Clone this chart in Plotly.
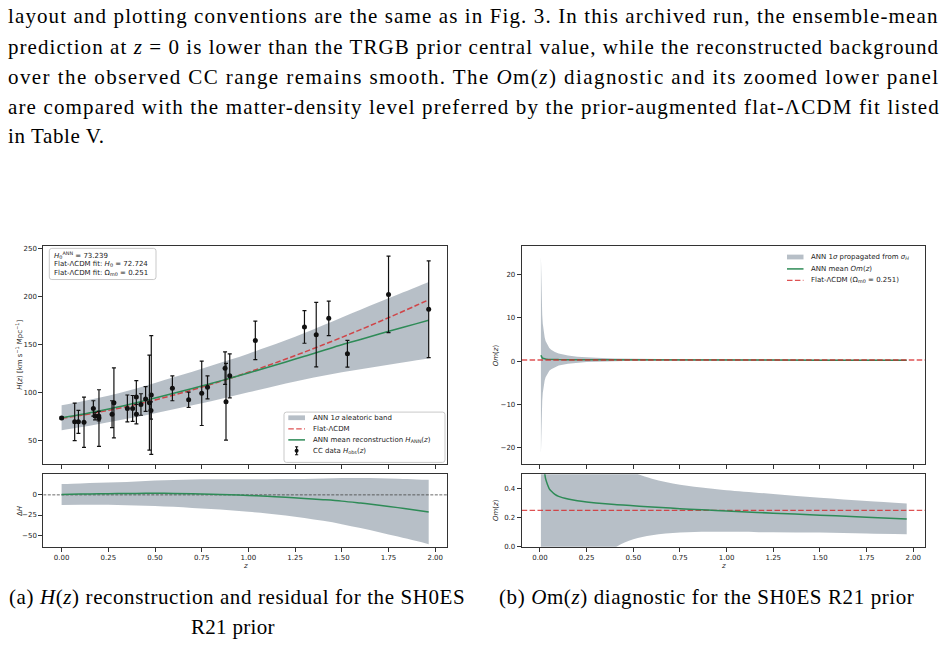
import numpy as np
import plotly.graph_objects as go

W, HT = 945, 647

# ---------------- data ----------------
# Cosmic-chronometer data (+ SH0ES R21 prior point at z = 0)
cc_z = [0.0, 0.07, 0.09, 0.12, 0.17, 0.179, 0.199, 0.2, 0.27, 0.28, 0.352, 0.3802,
        0.4, 0.4004, 0.4247, 0.4497, 0.47, 0.4783, 0.48, 0.593, 0.68, 0.75, 0.781,
        0.875, 0.88, 0.9, 1.037, 1.3, 1.363, 1.43, 1.53, 1.75, 1.965]
cc_h = [73.04, 69, 69, 68.6, 83, 75, 75, 72.9, 77, 88.8, 83, 83,
        95, 77, 87.1, 92.8, 89, 80.9, 97, 104, 92, 98.8, 105,
        125, 90, 117, 154, 168, 160, 177, 140, 202, 186.5]
cc_err = [1.04, 19.6, 12, 26.2, 8, 4, 5, 29.6, 14, 36.6, 14, 13.5,
          17, 10.2, 11.2, 12.9, 49.6, 9, 62, 13, 8, 33.6, 12,
          17, 40, 23, 20, 17, 33.6, 18, 14, 40, 50.4]

# Reconstruction grid
grid_z = [0.0, 0.1, 0.2, 0.3, 0.4, 0.5, 0.6, 0.7, 0.8, 0.9, 1.0,
          1.1, 1.2, 1.3, 1.4, 1.5, 1.6, 1.7, 1.8, 1.9, 1.965]
lcdm_h = [72.72, 75.69, 79.09, 82.93, 87.20, 91.88, 96.95, 102.39, 108.18, 114.31, 120.75,
          127.49, 134.52, 141.82, 149.37, 157.17, 165.21, 173.47, 181.94, 190.62, 196.38]
ann_h = [73.24, 76.6, 80.4, 84.5, 89.0, 93.8, 98.75, 103.8, 109.0, 114.4, 119.95,
         125.7, 131.5, 137.4, 143.4, 149.4, 155.0, 160.6, 166.1, 171.5, 175.0]
ann_sigma = [13.0, 13.3, 13.7, 14.2, 14.9, 15.8, 16.7, 17.6, 18.5, 19.3, 20.2,
             21.3, 22.6, 24.2, 26.3, 28.6, 31.0, 33.5, 35.9, 38.3, 40.0]

h0_ann = 73.239
h0_fit = 72.724
om0_fit = 0.251

# Om(z) diagnostic
om_z = [0.005, 0.006, 0.007, 0.008, 0.01, 0.012, 0.015, 0.02, 0.025, 0.03, 0.04, 0.05,
        0.06, 0.08, 0.1, 0.15, 0.2, 0.25, 0.3, 0.4, 0.5, 0.6, 0.75, 0.9, 1.0,
        1.25, 1.5, 1.75, 1.965]
om_mean = [1.35, 1.17, 1.04, 0.95, 0.82, 0.74, 0.65, 0.56, 0.51, 0.47, 0.43, 0.40,
           0.385, 0.362, 0.348, 0.330, 0.318, 0.309, 0.302, 0.291, 0.283, 0.275, 0.263, 0.253, 0.247,
           0.232, 0.218, 0.204, 0.192]
om_sigma = [22.8, 19.2, 16.6, 14.6, 11.8, 9.9, 8.0, 6.1, 5.0, 4.2, 3.25, 2.65,
            2.25, 1.72, 1.40, 0.95, 0.70, 0.55, 0.45, 0.30, 0.232, 0.195, 0.165, 0.150, 0.143,
            0.132, 0.120, 0.112, 0.106]

x_ticks = [0.0, 0.25, 0.5, 0.75, 1.0, 1.25, 1.5, 1.75, 2.0]
h_ticks = [50, 100, 150, 200, 250]
dh_ticks = [-50, -25, 0]
om_ticks = [-20, -10, 0, 10, 20]
omz_ticks = [0.0, 0.2, 0.4]

x_range = [-0.098, 2.063]
h_range = [24.6, 252.4]
dh_range = [-64.4, 25.5]
om_range = [-23.9, 26.6]
omz_range = [0.0, 0.5]

# ---------------- styling ----------------
BAND = "rgba(112,128,144,0.5)"
GREEN = "#2e8b57"
RED = "rgba(214,39,40,0.8)"
AX = "#333333"
TICKFONT = dict(family="DejaVu Sans", size=7, color="#222")
SERIF = "Liberation Serif"
RED_DASH = "5.5px,2.4px"


def px(x):
    return x / W


def py(y):
    return 1 - y / HT


ann_h_a = np.array(ann_h)
sig_a = np.array(ann_sigma)
lcdm_a = np.array(lcdm_h)
omm = np.array(om_mean)
oms = np.array(om_sigma)

fig = go.Figure()

# ---- H(z) panel ----
fig.add_trace(go.Scatter(x=grid_z, y=ann_h_a - sig_a, mode="lines", line=dict(width=0, shape="spline"),
                         hoverinfo="skip", showlegend=False, xaxis="x", yaxis="y"))
fig.add_trace(go.Scatter(x=grid_z, y=ann_h_a + sig_a, mode="lines", line=dict(width=0, shape="spline"),
                         fill="tonexty", fillcolor=BAND, showlegend=False, xaxis="x", yaxis="y"))
fig.add_trace(go.Scatter(x=grid_z, y=lcdm_h, mode="lines",
                         line=dict(color=RED, width=1.5, dash=RED_DASH, shape="spline"),
                         showlegend=False, xaxis="x", yaxis="y"))
fig.add_trace(go.Scatter(x=grid_z, y=ann_h, mode="lines",
                         line=dict(color=GREEN, width=1.5, shape="spline"),
                         showlegend=False, xaxis="x", yaxis="y"))
fig.add_trace(go.Scatter(x=cc_z, y=cc_h, mode="markers",
                         marker=dict(color="#111", size=5),
                         error_y=dict(type="data", array=cc_err, color="#111", thickness=1.2, width=2),
                         showlegend=False, xaxis="x", yaxis="y"))

# ---- residual panel ----
fig.add_trace(go.Scatter(x=grid_z, y=ann_h_a - sig_a - lcdm_a, mode="lines", line=dict(width=0, shape="spline"),
                         hoverinfo="skip", showlegend=False, xaxis="x2", yaxis="y2"))
fig.add_trace(go.Scatter(x=grid_z, y=ann_h_a + sig_a - lcdm_a, mode="lines", line=dict(width=0, shape="spline"),
                         fill="tonexty", fillcolor=BAND, showlegend=False, xaxis="x2", yaxis="y2"))
fig.add_trace(go.Scatter(x=x_range, y=[0, 0], mode="lines",
                         line=dict(color="#444", width=0.8, dash="3px,1.5px"),
                         showlegend=False, xaxis="x2", yaxis="y2"))
fig.add_trace(go.Scatter(x=grid_z, y=ann_h_a - lcdm_a, mode="lines",
                         line=dict(color=GREEN, width=1.5, shape="spline"),
                         showlegend=False, xaxis="x2", yaxis="y2"))

# ---- Om(z) panel ----
fig.add_trace(go.Scatter(x=om_z, y=omm - oms, mode="lines", line=dict(width=0),
                         hoverinfo="skip", showlegend=False, xaxis="x3", yaxis="y3"))
fig.add_trace(go.Scatter(x=om_z, y=omm + oms, mode="lines", line=dict(width=0),
                         fill="tonexty", fillcolor=BAND, showlegend=False, xaxis="x3", yaxis="y3"))
fig.add_trace(go.Scatter(x=om_z, y=om_mean, mode="lines", line=dict(color=GREEN, width=1.5),
                         showlegend=False, xaxis="x3", yaxis="y3"))
fig.add_trace(go.Scatter(x=x_range, y=[om0_fit, om0_fit], mode="lines",
                         line=dict(color=RED, width=1.3, dash=RED_DASH),
                         showlegend=False, xaxis="x3", yaxis="y3"))

# ---- Om(z) zoom panel ----
fig.add_trace(go.Scatter(x=om_z, y=omm - oms, mode="lines", line=dict(width=0, shape="spline"),
                         hoverinfo="skip", showlegend=False, xaxis="x4", yaxis="y4"))
fig.add_trace(go.Scatter(x=om_z, y=omm + oms, mode="lines", line=dict(width=0, shape="spline"),
                         fill="tonexty", fillcolor=BAND, showlegend=False, xaxis="x4", yaxis="y4"))
fig.add_trace(go.Scatter(x=x_range, y=[om0_fit, om0_fit], mode="lines",
                         line=dict(color=RED, width=1.3, dash=RED_DASH),
                         showlegend=False, xaxis="x4", yaxis="y4"))
fig.add_trace(go.Scatter(x=om_z, y=om_mean, mode="lines", line=dict(color=GREEN, width=1.5, shape="spline"),
                         showlegend=False, xaxis="x4", yaxis="y4"))

# ---------------- axes ----------------
lx = [px(43.3), px(447)]
rx = [px(521.7), px(925)]
ty = [py(467), py(247)]
by = [py(550), py(477)]

common = dict(showline=True, linecolor=AX, linewidth=1, mirror=True, ticks="outside",
              ticklen=4, tickwidth=1, tickcolor=AX, showgrid=False, zeroline=False,
              tickfont=TICKFONT)
xt_text = ["%.2f" % v for v in x_ticks]

fig.update_layout(
    xaxis=dict(domain=lx, anchor="y", range=x_range, tickvals=x_ticks, showticklabels=False, **common),
    yaxis=dict(domain=ty, anchor="x", range=h_range, tickvals=h_ticks, **common),
    xaxis2=dict(domain=lx, anchor="y2", range=x_range, tickvals=x_ticks, ticktext=xt_text, **common),
    yaxis2=dict(domain=by, anchor="x2", range=dh_range, tickvals=dh_ticks, **common),
    xaxis3=dict(domain=rx, anchor="y3", range=x_range, tickvals=x_ticks, showticklabels=False, **common),
    yaxis3=dict(domain=ty, anchor="x3", range=om_range, tickvals=om_ticks, **common),
    xaxis4=dict(domain=rx, anchor="y4", range=x_range, tickvals=x_ticks, ticktext=xt_text, **common),
    yaxis4=dict(domain=by, anchor="x4", range=omz_range, tickvals=omz_ticks,
                ticktext=["%.1f" % v for v in omz_ticks], **common),
    width=W, height=HT, margin=dict(l=0, r=0, t=0, b=0),
    paper_bgcolor="white", plot_bgcolor="white", showlegend=False,
)

annotations = []
shapes = []


def text(x, y, s, size=7, family="DejaVu Sans", xanchor="left", yanchor="middle", angle=0,
         color="#222", spacing=None):
    if spacing is not None:
        s = '<span style="letter-spacing:%.2fpx">%s</span>' % (spacing, s)
    annotations.append(dict(x=px(x), y=py(y), xref="paper", yref="paper", text=s, showarrow=False,
                            xanchor=xanchor, yanchor=yanchor, textangle=angle,
                            font=dict(family=family, size=size, color=color)))


def rrect(x0, y0, x1, y1, r, line="#bbbbbb", fill="rgba(255,255,255,0.85)", width=0.8):
    rx_, ry_ = r / W, r / HT
    X0, X1, Y0, Y1 = px(x0), px(x1), py(y1), py(y0)
    path = (f"M {X0+rx_},{Y0} L {X1-rx_},{Y0} Q {X1},{Y0} {X1},{Y0+ry_} L {X1},{Y1-ry_} "
            f"Q {X1},{Y1} {X1-rx_},{Y1} L {X0+rx_},{Y1} Q {X0},{Y1} {X0},{Y1-ry_} "
            f"L {X0},{Y0+ry_} Q {X0},{Y0} {X0+rx_},{Y0} Z")
    shapes.append(dict(type="path", path=path, xref="paper", yref="paper",
                       line=dict(color=line, width=width), fillcolor=fill, layer="above"))


def seg(x0, y0, x1, y1, color, width=1.5, dash="solid"):
    shapes.append(dict(type="line", x0=px(x0), y0=py(y0), x1=px(x1), y1=py(y1), xref="paper",
                       yref="paper", line=dict(color=color, width=width, dash=dash), layer="above"))


def patch(x0, y0, x1, y1, color):
    shapes.append(dict(type="rect", x0=px(x0), y0=py(y1), x1=px(x1), y1=py(y0), xref="paper",
                       yref="paper", line=dict(width=0), fillcolor=color, layer="above"))


# ---- info box (top-left) ----
rrect(49.3, 249.3, 156, 280.7, 2.5)
text(52, 255.7, "<i>H</i><sub>0</sub><sup>ANN</sup> = %.3f" % h0_ann)
text(52, 264.9, "Flat-ΛCDM fit: <i>H</i><sub>0</sub> = %.3f" % h0_fit)
text(52, 274.2, "Flat-ΛCDM fit: Ω<sub>m0</sub> = %.3f" % om0_fit)

# ---- H panel legend ----
rrect(284, 414.3, 445, 465, 2.5)
patch(288.3, 417.6, 305, 422.4, BAND)
text(310.7, 420, "ANN 1<i>σ</i> aleatoric band")
seg(288.3, 431.2, 305, 431.2, RED, 1.3, RED_DASH)
text(310.7, 431.2, "Flat-ΛCDM")
seg(288.3, 442.3, 305, 442.3, GREEN, 1.5)
text(310.7, 442.3, "ANN mean reconstruction <i>H</i><sub>ANN</sub>(<i>z</i>)")
seg(296.6, 449.3, 296.6, 457.3, "#111", 1.2)
seg(295, 449.3, 298.2, 449.3, "#111", 1)
seg(295, 457.3, 298.2, 457.3, "#111", 1)
shapes.append(dict(type="circle", x0=px(294.6), x1=px(298.6), y0=py(455.3), y1=py(451.3),
                   xref="paper", yref="paper", fillcolor="#111", line=dict(width=0), layer="above"))
text(310.7, 453.3, "CC data <i>H</i><sub>obs</sub>(<i>z</i>)")

# ---- Om legend ----
patch(787, 255.6, 803.5, 260.4, BAND)
text(809.3, 258, "ANN 1<i>σ</i> propagated from <i>σ<sub>H</sub></i>")
seg(787, 270, 803.5, 270, GREEN, 1.5)
text(809.3, 270, "ANN mean <i>Om</i>(<i>z</i>)")
seg(787, 281.6, 803.5, 281.6, RED, 1.3, RED_DASH)
text(809.3, 281.6, "Flat-ΛCDM (Ω<sub>m0</sub> = %.3f)" % om0_fit)

# ---- axis labels ----
text(19.5, 357, "<i>H</i>(<i>z</i>) [km s<sup>−1</sup> Mpc<sup>−1</sup>]", xanchor="center", angle=-90)
text(19.5, 513.5, "Δ<i>H</i>", xanchor="center", angle=-90)
text(245, 569.3, "<i>z</i>", xanchor="center")
text(496, 357, "<i>Om</i>(<i>z</i>)", xanchor="center", angle=-90)
text(495.5, 513.5, "<i>Om</i>(<i>z</i>)", xanchor="center", angle=-90)
text(723, 569.3, "<i>z</i>", xanchor="center")

# ---- paragraph text (justified-looking via per-line letter spacing) ----
para = [
    (15, 1.11, "layout and plotting conventions are the same as in Fig. 3. In this archived run, the ensemble-mean"),
    (46, 1.06, "prediction at <i>z</i> = 0 is lower than the TRGB prior central value, while the reconstructed background"),
    (76.5, 1.43, "over the observed CC range remains smooth. The <i>O</i>m(<i>z</i>) diagnostic and its zoomed lower panel"),
    (107, 1.15, "are compared with the matter-density level preferred by the prior-augmented flat-ΛCDM fit listed"),
    (136.5, 0.6, "in Table V."),
]
for yy, sp, s in para:
    text(6, yy, s, size=21, family=SERIF, color="#000", spacing=sp)

# ---- captions ----
text(7, 601, "(a) <i>H</i>(<i>z</i>) reconstruction and residual for the SH0ES", size=21, family=SERIF,
     color="#000", spacing=0.6)
text(233, 631, "R21 prior", size=21, family=SERIF, color="#000", xanchor="center", spacing=0.3)
text(497, 601, "(b) <i>O</i>m(<i>z</i>) diagnostic for the SH0ES R21 prior", size=21, family=SERIF,
     color="#000", spacing=0.6)

fig.update_layout(annotations=annotations, shapes=shapes)
fig.write_html("out.html")
